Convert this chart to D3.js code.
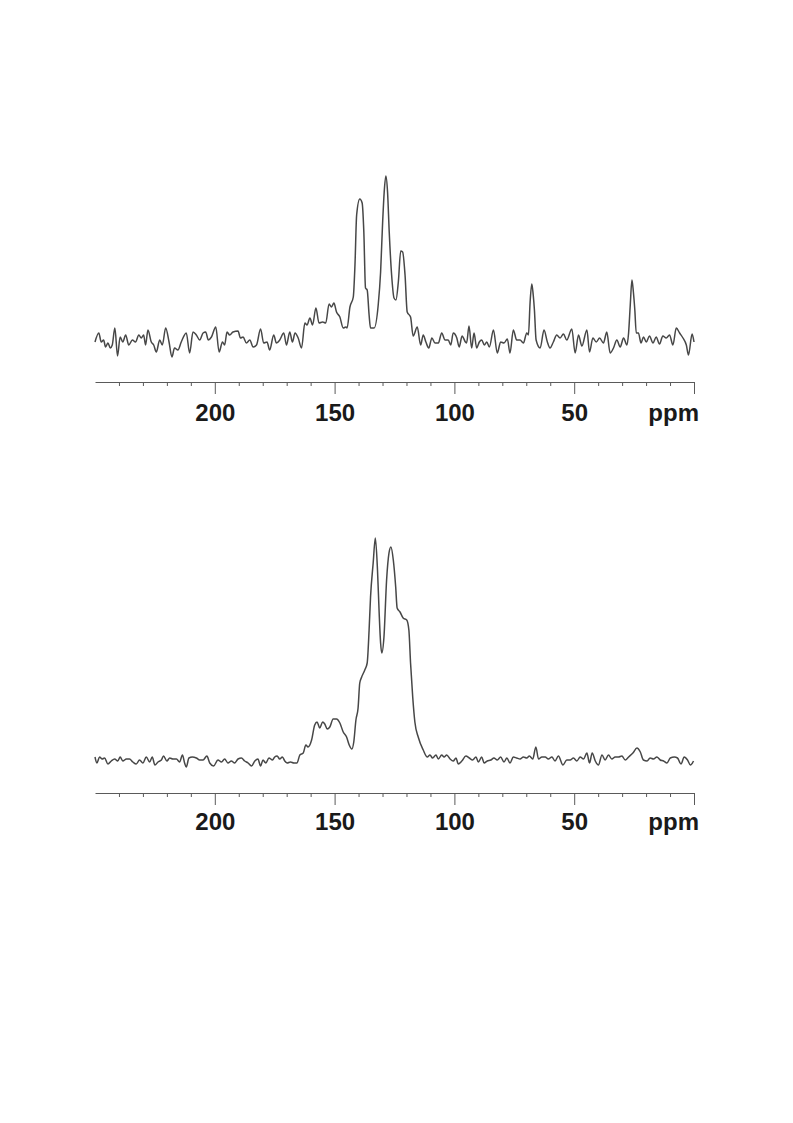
<!DOCTYPE html>
<html>
<head>
<meta charset="utf-8">
<script src="https://cdn.jsdelivr.net/npm/d3@7"></script>
<style>
  html, body { margin: 0; padding: 0; background: #ffffff; }
  svg { display: block; }
</style>
</head>
<body>
<svg id="chart" width="793" height="1123"></svg>
<script>
// ---- Data ----
const topPpm = [250.0,248.4,247.4,246.4,245.6,244.6,243.6,242.8,241.7,240.6,239.5,238.4,237.2,235.9,234.4,233.1,231.7,230.7,229.7,228.9,227.9,226.5,225.5,224.4,223.0,221.9,220.5,219.1,217.9,216.8,215.4,214.0,211.9,210.5,209.1,207.7,206.3,204.9,203.8,202.7,201.4,199.6,198.2,196.8,195.9,194.9,193.8,192.4,190.3,189.3,188.2,186.8,185.4,184.0,182.6,180.9,179.6,178.2,177.1,175.4,174.3,172.9,171.2,170.1,168.7,167.6,166.5,165.2,163.8,162.4,161.5,160.3,159.2,157.8,156.5,155.0,153.7,152.3,151.3,150.3,149.2,147.8,146.4,145.3,144.8,
  143.6,142.2,141.5,140.8,139.5,138.5,137.8,137.1,136.4,135.6,135.0,133.5,131.8,130.8,130.0,129.3,128.6,127.9,127.2,126.2,125.2,124.4,123.4,122.4,121.6,120.6,119.7,118.3,117.2,
  115.5,114.1,113.0,111.9,110.7,109.4,108.1,106.7,105.3,103.9,102.6,101.5,100.5,99.0,98.0,96.8,95.4,94.9,93.9,92.8,91.8,90.7,89.6,88.6,87.5,86.5,85.4,83.7,82.1,80.7,79.3,77.9,76.8,75.4,74.0,72.6,71.2,69.8,69.1,68.4,67.7,67.1,66.6,65.9,64.2,62.6,61.2,60.1,58.7,57.3,55.9,54.5,53.1,51.0,49.6,48.2,46.8,44.7,43.6,42.2,40.8,39.4,37.8,36.4,35.0,33.6,32.2,30.8,29.4,28.0,27.3,26.6,25.9,25.3,24.7,24.1,23.2,22.1,21.1,19.9,18.6,17.1,15.8,14.4,13.0,11.6,10.2,8.8,7.4,6.0,4.6,3.2,2.3,0.8,0.0];
const topIntensity = [-2,7,-2,0,-7,-3,-8,-5,12,-16,3,-2,5,-5,0,-2,5,2,5,-5,10,-2,-5,-12,0,-5,12,-2,-17,-8,-10,-2,7,-13,8,5,0,7,8,0,3,13,-12,-2,-5,8,5,8,9,2,3,-3,0,-7,-5,11,-3,-2,-10,5,-3,0,7,-5,8,-2,7,2,-8,17,15,22,15,32,17,18,17,36,33,37,28,23,12,13,12,
  33,43,75,125,141,137,108,52,50,25,12,12,35,68,115,148,164,148,108,65,42,40,58,89,88,65,28,23,4,
  13,-5,5,-2,-8,2,-3,-3,7,0,0,-5,7,2,-7,4,-2,-3,14,-8,7,-8,-2,0,-5,-2,-7,10,-13,-2,-3,1,-13,10,0,0,-3,7,5,38,56,45,30,0,-8,10,-2,-8,-2,5,2,6,0,11,-13,5,-6,10,-12,2,-2,2,-3,8,-13,-8,0,-7,2,-5,7,35,60,48,30,7,7,-3,3,-2,4,-3,3,-4,4,2,5,-5,12,7,2,-5,-15,6,-2];

const bottomPpm = [250.0,249.2,248.1,247.0,246.0,244.6,243.2,241.8,240.5,239.5,238.4,236.9,235.6,234.2,232.8,231.4,230.0,228.6,227.2,226.1,225.0,223.7,222.3,221.4,220.0,218.8,217.5,216.0,214.7,213.5,212.6,211.9,210.8,209.4,207.7,206.3,204.9,203.3,202.1,200.5,198.7,197.2,195.9,194.5,193.1,191.7,190.3,188.9,187.5,186.1,184.7,183.3,182.0,180.9,179.9,178.7,177.4,175.9,175.0,174.0,172.9,171.8,170.8,169.8,168.4,167.0,165.7,164.5,163.1,162.0,161.1,159.6,158.3,157.3,156.2,155.0,154.1,153.1,152.0,150.6,149.2,147.8,146.4,145.0,143.9,142.8,142.0,141.1,
  140.2,139.5,138.7,137.4,136.4,135.6,135.0,133.9,133.0,132.1,131.4,130.8,130.3,129.4,128.3,127.3,126.5,125.5,124.5,123.9,122.7,121.4,119.9,119.0,118.3,117.4,116.5,115.1,113.0,
  111.3,110.2,109.1,107.7,106.7,105.3,104.3,103.2,101.8,100.5,99.3,98.4,96.9,95.2,93.8,92.4,91.0,90.0,88.6,87.6,86.3,84.8,83.5,82.1,80.7,79.3,78.1,76.8,75.4,74.0,72.6,71.2,69.8,68.7,67.3,66.0,64.9,63.5,62.1,60.8,59.3,58.0,56.6,54.7,53.1,51.7,50.3,48.9,47.5,46.1,44.7,43.6,42.5,41.2,39.9,38.4,37.1,35.7,34.3,32.9,31.5,30.1,28.7,27.3,25.5,23.8,22.4,21.1,19.6,18.3,16.9,15.5,14.1,12.7,11.3,9.9,8.2,6.9,5.4,4.1,2.7,1.5,0.2];
const bottomIntensity = [3,-3,3,1,2,-4,-1,1,-1,3,-1,1,1,-2,-4,0,-3,3,-2,3,-5,-2,0,4,-1,2,1,1,-2,5,-3,-7,2,3,2,0,0,4,-3,-6,0,-2,1,-3,-1,-3,1,2,-1,-3,-6,-1,1,-6,0,-3,2,0,3,4,1,3,-1,-3,-2,-3,-3,5,7,15,13,20,35,38,32,38,36,31,33,41,41,37,28,23,15,11,18,40,
  52,77,83,90,97,130,163,197,222,190,147,117,107,123,180,207,213,200,173,152,148,142,140,130,97,63,38,23,10,
  3,5,2,5,1,5,3,5,1,-1,2,-4,-1,4,2,0,3,-2,3,-3,-1,0,2,0,3,-2,2,-3,3,2,1,3,2,4,1,13,1,3,3,1,3,-1,4,-5,0,0,2,-1,3,1,7,-3,7,-1,-5,5,0,5,1,3,3,4,0,3,7,12,8,0,-1,2,1,3,0,-1,-3,2,3,2,-4,3,0,-5,-1];

const majorTicks = [200, 150, 100, 50, 0];
const majorLabels = ["200", "150", "100", "50", ""];
const minorTicks = [240, 230, 220, 210, 190, 180, 170, 160, 140, 130, 120, 110, 90, 80, 70, 60, 40, 30, 20, 10];
const unitLabel = "ppm";

// ---- Drawing ----
const svg = d3.select("#chart");
const x = d3.scaleLinear().domain([250, 0]).range([95, 694]);

const panels = [
  { ppm: topPpm, inten: topIntensity, base: 340, axisY: 382, labelY: 421 },
  { ppm: bottomPpm, inten: bottomIntensity, base: 760, axisY: 793, labelY: 830 }
];

const fontFamily = "'Liberation Sans', Arial, sans-serif";

panels.forEach(p => {
  const y = d3.scaleLinear().domain([0, 200]).range([p.base, p.base - 200]);
  const pts = p.ppm.map((v, i) => [v, p.inten[i]]);
  const line = d3.line()
    .x(d => x(d[0]))
    .y(d => y(d[1]))
    .curve(d3.curveMonotoneX);

  svg.append("path")
    .datum(pts)
    .attr("fill", "none")
    .attr("stroke", "#474747")
    .attr("stroke-width", 1.5)
    .attr("stroke-linejoin", "round")
    .attr("d", line);

  // minor ticks
  const gMinor = svg.append("g")
    .attr("transform", `translate(0,${p.axisY})`)
    .call(d3.axisBottom(x).tickValues(minorTicks).tickSize(4).tickSizeOuter(0).tickFormat(""));
  gMinor.select(".domain").remove();
  gMinor.selectAll("line").attr("stroke", "#5a5a5a");

  // major ticks + labels
  const gMajor = svg.append("g")
    .attr("transform", `translate(0,${p.axisY})`)
    .call(d3.axisBottom(x).tickValues(majorTicks).tickSize(12).tickSizeOuter(0)
      .tickFormat((d, i) => majorLabels[i]));
  gMajor.select(".domain").attr("stroke", "#5a5a5a").attr("stroke-width", 1);
  gMajor.selectAll("line").attr("stroke", "#5a5a5a");
  gMajor.selectAll("text")
    .attr("y", p.labelY - p.axisY)
    .attr("dy", 0)
    .attr("fill", "#1a1a1a")
    .style("font-family", fontFamily)
    .style("font-weight", "bold")
    .style("font-size", "24px");

  svg.append("text")
    .attr("x", x(0) + 5)
    .attr("y", p.labelY)
    .attr("text-anchor", "end")
    .attr("fill", "#1a1a1a")
    .style("font-family", fontFamily)
    .style("font-weight", "bold")
    .style("font-size", "24px")
    .text(unitLabel);
});
</script>
</body>
</html>
